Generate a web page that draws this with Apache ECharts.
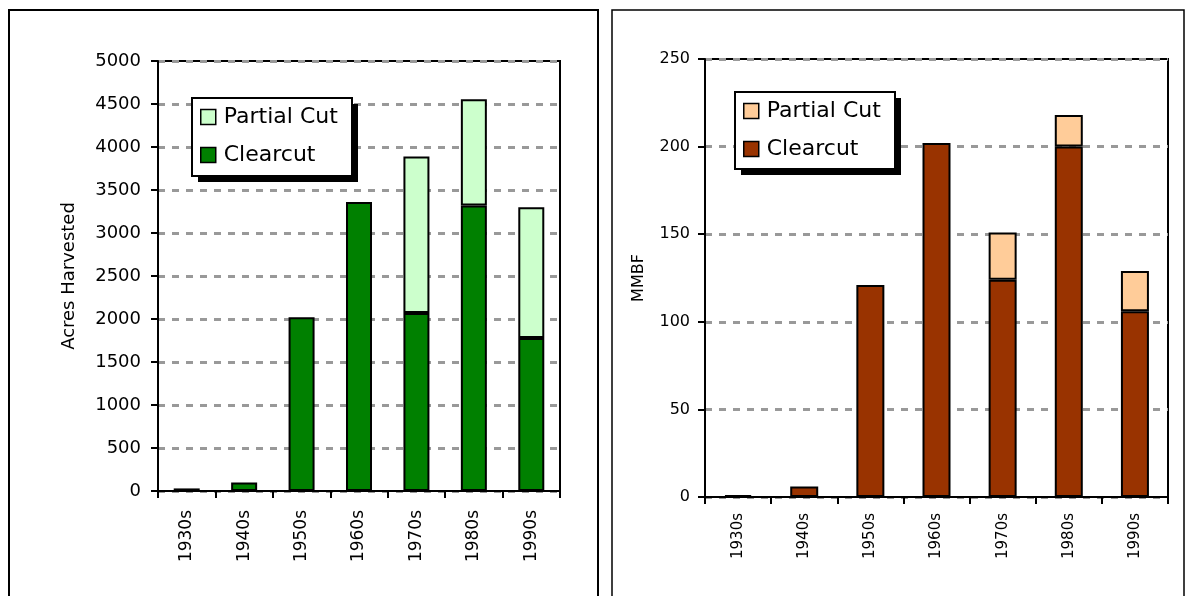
<!DOCTYPE html>
<html>
<head>
<meta charset="utf-8">
<script src="https://cdn.jsdelivr.net/npm/echarts@6/dist/echarts.min.js"></script>
<style>
  html, body { margin: 0; padding: 0; background: #fff; }
  #chart { width: 1188px; height: 596px; }
</style>
</head>
<body>
<div id="chart"></div>
<script>
// Harvest history by decade
const decades = ['1930s', '1940s', '1950s', '1960s', '1970s', '1980s', '1990s'];

// Acres harvested
const acresClearcut = [30, 100, 2020, 3360, 2070, 3320, 1780];
const acresPartial  = [0, 0, 0, 0, 1820, 1235, 1520];

// Volume harvested, million board feet
const mmbfClearcut = [1, 6, 121, 202, 124, 200, 106];
const mmbfPartial  = [0, 0, 0, 0, 27, 18, 23];

const acresTicks = { min: 0, max: 5000, interval: 500 };
const mmbfTicks  = { min: 0, max: 250, interval: 50 };

const FONT = 'DejaVu Sans';
const noZero = arr => arr.map(v => (v === 0 ? null : v));

function valueAxis(gridIndex, ticks, fontSize, margin, name, nameSize, nameGap) {
  return {
    type: 'value', gridIndex,
    min: ticks.min, max: ticks.max, interval: ticks.interval,
    name, nameLocation: 'middle', nameGap,
    nameTextStyle: { fontFamily: FONT, fontSize: nameSize, color: '#000' },
    axisLine: { show: true, lineStyle: { color: '#000', width: 2 } },
    axisTick: { show: true, length: 7, lineStyle: { color: '#000', width: 2 } },
    axisLabel: { fontFamily: FONT, fontSize, color: '#000', margin, formatter: v => String(v) },
    splitLine: { show: true, lineStyle: { color: '#999', width: 3, type: [7, 7] } }
  };
}

function categoryAxis(gridIndex, fontSize, margin) {
  return {
    type: 'category', gridIndex, data: decades,
    axisLine: { show: true, lineStyle: { color: '#000', width: 2 } },
    axisTick: { show: true, length: 7, lineStyle: { color: '#000', width: 2 } },
    axisLabel: { fontFamily: FONT, fontSize, color: '#000', rotate: 90, margin, interval: 0 },
    splitLine: { show: false }
  };
}

function barSeries(name, idx, values, color, width) {
  return {
    name, type: 'bar', stack: 'cut' + idx,
    xAxisIndex: idx, yAxisIndex: idx,
    data: noZero(values), barWidth: width,
    itemStyle: { color, borderColor: '#000', borderWidth: 2 },
    emphasis: { disabled: true },
    animation: false
  };
}

function legendItems(left, top, names) {
  return {
    orient: 'vertical', left, top,
    data: names,
    icon: 'rect',
    itemWidth: 15, itemHeight: 15, itemGap: 16,
    padding: 0,
    textStyle: { fontFamily: FONT, fontSize: 22, color: '#000', padding: [0, 0, 0, 3] },
    itemStyle: { borderColor: '#000', borderWidth: 1.5 },
    selectedMode: false,
    z: 10
  };
}

// legend frame with a solid drop shadow
function legendFrame(x, y, w, h) {
  return [
    { type: 'rect', z: 8, shape: { x: x + 6, y: y + 6, width: w, height: h },
      style: { fill: '#000', stroke: null } },
    { type: 'rect', z: 9, shape: { x, y, width: w, height: h },
      style: { fill: '#fff', stroke: '#000', lineWidth: 2 } }
  ];
}

const chart = echarts.init(document.getElementById('chart'), null, { renderer: 'canvas' });
chart.setOption({
  backgroundColor: '#fff',
  animation: false,
  graphic: [
    { type: 'rect', shape: { x: 9, y: 10, width: 589, height: 620 },
      style: { fill: 'none', stroke: '#000', lineWidth: 2 }, z: -1 },
    { type: 'rect', shape: { x: 612, y: 10, width: 572, height: 620 },
      style: { fill: 'none', stroke: '#000', lineWidth: 1.5 }, z: -1 },
    ...legendFrame(192, 98, 160, 78),
    ...legendFrame(735, 92, 160, 77)
  ],
  grid: [
    { left: 158, top: 61, width: 402, height: 430, show: true,
      borderColor: '#000', borderWidth: 2, backgroundColor: 'transparent' },
    { left: 705, top: 59, width: 463, height: 438, show: true,
      borderColor: '#000', borderWidth: 2, backgroundColor: 'transparent' }
  ],
  xAxis: [categoryAxis(0, 17, 19), categoryAxis(1, 15, 16)],
  yAxis: [
    valueAxis(0, acresTicks, 18, 17, 'Acres Harvested', 18, 80),
    valueAxis(1, mmbfTicks, 16, 15, 'MMBF', 16, 58)
  ],
  legend: [
    legendItems(200, 106, [
      { name: 'Partial Cut', itemStyle: { color: '#CCFFCC' } },
      { name: 'Clearcut', itemStyle: { color: '#008000' } }
    ]),
    legendItems(743, 100, [
      { name: 'Partial Cut ', itemStyle: { color: '#FFCC99' } },
      { name: 'Clearcut ', itemStyle: { color: '#993300' } }
    ])
  ],
  series: [
    barSeries('Clearcut', 0, acresClearcut, '#008000', 26),
    barSeries('Partial Cut', 0, acresPartial, '#CCFFCC', 26),
    barSeries('Clearcut ', 1, mmbfClearcut, '#993300', 28),
    barSeries('Partial Cut ', 1, mmbfPartial, '#FFCC99', 28)
  ]
});
</script>
</body>
</html>
